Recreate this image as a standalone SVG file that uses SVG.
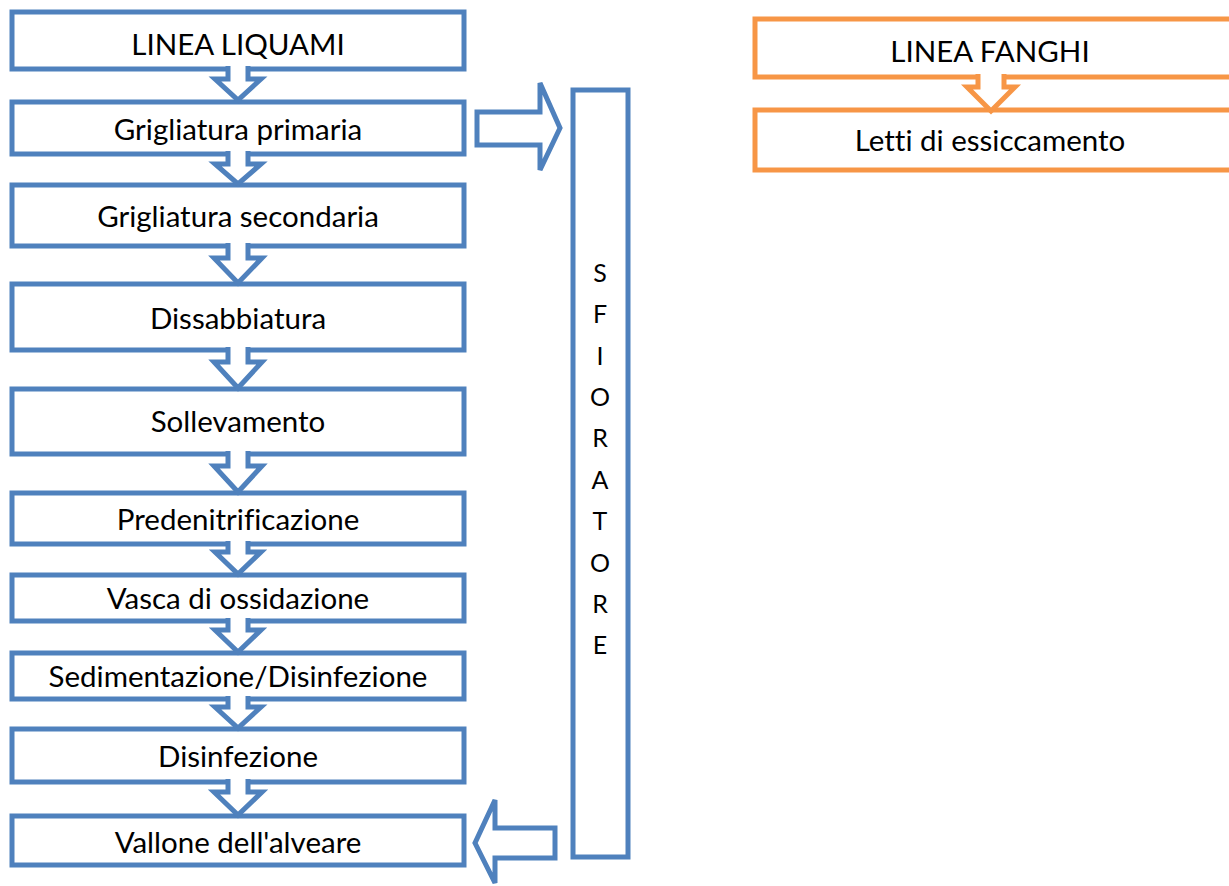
<svg xmlns="http://www.w3.org/2000/svg" width="1229" height="886" viewBox="0 0 1229 886">
<style>
.b{fill:#fff;stroke:#4F81BD;stroke-width:5}
.o{fill:#fff;stroke:#F79646;stroke-width:5}
.a{fill:#fff;stroke:#4F81BD;stroke-width:5;stroke-linejoin:miter}
.ao{fill:#fff;stroke:#F79646;stroke-width:5}
.t{font-family:Lato,"Liberation Sans",sans-serif;font-size:29.5px;fill:#000;text-anchor:middle;dominant-baseline:central;font-variant-ligatures:none}
.s{font-family:Lato,"Liberation Sans",sans-serif;font-size:25px;fill:#000;text-anchor:middle}
</style>
<rect width="1229" height="886" fill="#fff"/>
<g id="n1"><rect class="b" x="12" y="12" width="452" height="57"/><text class="t" x="238" y="43">LINEA LIQUAMI</text></g>
<g id="n2"><rect class="b" x="12" y="102" width="452" height="52"/><text class="t" x="238" y="128">Grigliatura primaria</text></g>
<g id="n3"><rect class="b" x="12" y="185" width="452" height="61"/><text class="t" x="238" y="215">Grigliatura secondaria</text></g>
<g id="n4"><rect class="b" x="12" y="284" width="452" height="66"/><text class="t" x="238" y="317">Dissabbiatura</text></g>
<g id="n5"><rect class="b" x="12" y="389" width="452" height="65"/><text class="t" x="238" y="420">Sollevamento</text></g>
<g id="n6"><rect class="b" x="12" y="493" width="452" height="51"/><text class="t" x="238" y="518">Predenitrificazione</text></g>
<g id="n7"><rect class="b" x="12" y="575" width="452" height="46"/><text class="t" x="238" y="597">Vasca di ossidazione</text></g>
<g id="n8"><rect class="b" x="12" y="653" width="452" height="46"/><text class="t" x="238" y="675">Sedimentazione/Disinfezione</text></g>
<g id="n9"><rect class="b" x="12" y="729" width="452" height="53"/><text class="t" x="238" y="755">Disinfezione</text></g>
<g id="n10"><rect class="b" x="12" y="816" width="452" height="49"/><text class="t" x="238" y="841">Vallone dell'alveare</text></g>
<g id="sfioratore"><rect class="b" x="573" y="90" width="55" height="767"/>
<text class="s" x="600" y="282">S</text><text class="s" x="600" y="323">F</text><text class="s" x="600" y="365">I</text><text class="s" x="600" y="406">O</text><text class="s" x="600" y="447">R</text><text class="s" x="600" y="489">A</text><text class="s" x="600" y="530">T</text><text class="s" x="600" y="572">O</text><text class="s" x="600" y="613">R</text><text class="s" x="600" y="654">E</text></g>
<g id="f1"><rect class="o" x="755" y="19" width="480" height="58"/><text class="t" x="990" y="50">LINEA FANGHI</text></g>
<g id="f2"><rect class="o" x="755" y="110" width="480" height="60"/><text class="t" x="990" y="139">Letti di essiccamento</text></g>
<g id="connectors">
<path class="a" d="M228,66 V79 H215 L238,100 L261,79 H248 V66"/>
<path class="a" d="M228,151 V164 H215 L238,184 L261,164 H248 V151"/>
<path class="a" d="M228,243 V258 H214 L238,283 L262,258 H248 V243"/>
<path class="a" d="M228,347 V362 H214 L238,388 L262,362 H248 V347"/>
<path class="a" d="M228,451 V466 H214 L238,492 L262,466 H248 V451"/>
<path class="a" d="M228,541 V552 H215 L238,574 L261,552 H248 V541"/>
<path class="a" d="M228,618 V630 H215 L238,652 L261,630 H248 V618"/>
<path class="a" d="M228,696 V707 H215 L238,728 L261,707 H248 V696"/>
<path class="a" d="M228,779 V792 H214 L238,815 L262,792 H248 V779"/>
<path class="a" d="M477,112 H540 V83 L560,128 L540,170 V145 H477 Z"/>
<path class="a" d="M555,828 H495 V800 L475,843 L495,883 V858 H555 Z"/>
<path class="ao" d="M978,74 V87 H967 L991,111 L1015,87 H1004 V74"/>
</g>
</svg>
